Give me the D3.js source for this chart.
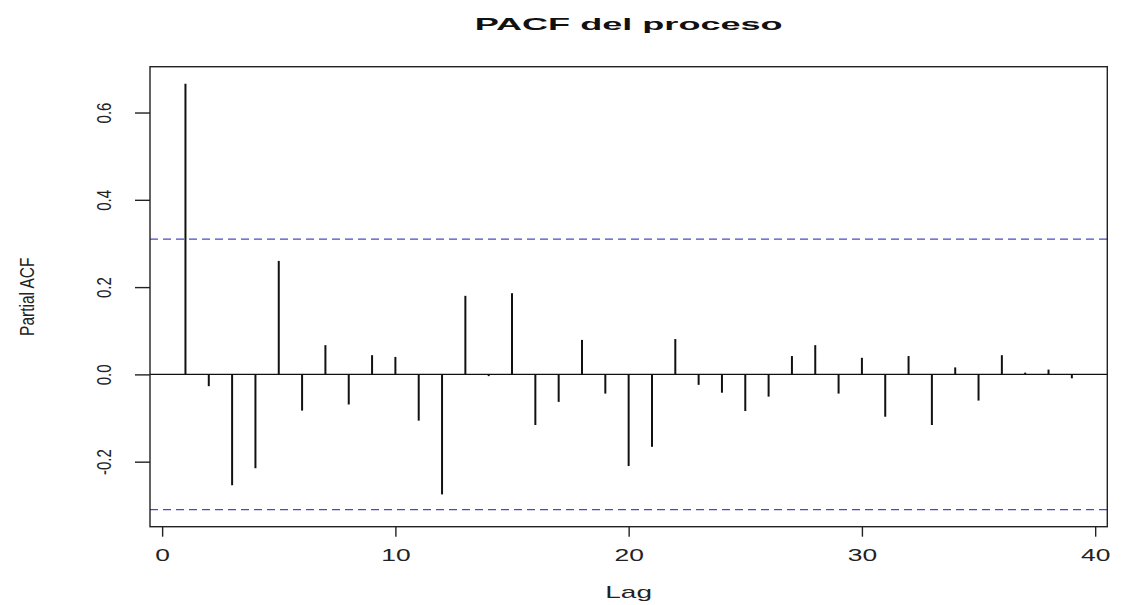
<!DOCTYPE html>
<html>
<head>
<meta charset="utf-8">
<script src="https://cdn.jsdelivr.net/npm/d3@7"></script>
<style>
  html, body { margin: 0; padding: 0; background: #fff; }
  svg { display: block; }
</style>
</head>
<body>
<div id="chart"></div>
<script>
// ---- data ----
const lags = [1,2,3,4,5,6,7,8,9,10,11,12,13,14,15,16,17,18,19,20,
              21,22,23,24,25,26,27,28,29,30,31,32,33,34,35,36,37,38,39];
const pacfValues = [0.666,-0.027,-0.254,-0.215,0.260,-0.083,0.067,-0.069,0.044,0.040,
                    -0.106,-0.275,0.180,-0.004,0.186,-0.116,-0.063,0.079,-0.044,-0.210,
                    -0.166,0.081,-0.024,-0.042,-0.084,-0.051,0.042,0.067,-0.044,0.038,
                    -0.097,0.042,-0.116,0.016,-0.060,0.044,0.004,0.011,-0.009];
const confLimit = 0.31;
const xTickValues = [0, 10, 20, 30, 40];
const yTickValues = [-0.2, 0.0, 0.2, 0.4, 0.6];
const titleText = "PACF del proceso";
const xLabel = "Lag";
const yLabel = "Partial ACF";

// ---- layout ----
const W = 1121, H = 605;
const plot = { left: 150, right: 1107.3, top: 66.7, bottom: 526.7 };
const font = "'Liberation Sans', Arial, Helvetica, sans-serif";

const svg = d3.select("#chart").append("svg")
  .attr("width", W).attr("height", H)
  .attr("viewBox", `0 0 ${W} ${H}`);
svg.append("rect").attr("width", W).attr("height", H).attr("fill", "#fff");

const x = d3.scaleLinear().domain([-0.52, 40.52]).range([plot.left, plot.right]);
const y = d3.scaleLinear().domain([-0.349, 0.705]).range([plot.bottom, plot.top]);

// confidence lines
svg.append("g").selectAll("line")
  .data([confLimit, -confLimit])
  .join("line")
  .attr("x1", plot.left).attr("x2", plot.right)
  .attr("y1", d => y(d)).attr("y2", d => y(d))
  .attr("stroke", "#4a4ac8")
  .attr("stroke-width", 1.3)
  .attr("stroke-dasharray", "8,5");

// zero line
svg.append("line")
  .attr("x1", plot.left).attr("x2", plot.right)
  .attr("y1", y(0)).attr("y2", y(0))
  .attr("stroke", "#111").attr("stroke-width", 1.3);

// spikes
svg.append("g").selectAll("line")
  .data(lags.map((l, i) => ({ lag: l, v: pacfValues[i] })))
  .join("line")
  .attr("x1", d => x(d.lag)).attr("x2", d => x(d.lag))
  .attr("y1", y(0)).attr("y2", d => y(d.v))
  .attr("stroke", "#111").attr("stroke-width", 2);

// box
svg.append("rect")
  .attr("x", plot.left).attr("y", plot.top)
  .attr("width", plot.right - plot.left).attr("height", plot.bottom - plot.top)
  .attr("fill", "none").attr("stroke", "#222").attr("stroke-width", 1.4);

// x axis
const xAxis = svg.append("g")
  .attr("transform", `translate(0,${plot.bottom})`)
  .call(d3.axisBottom(x).tickValues(xTickValues).tickSize(10).tickFormat(d => String(d)));
xAxis.select(".domain").remove();
xAxis.selectAll(".tick line").attr("stroke", "#222").attr("stroke-width", 1.4);
xAxis.selectAll(".tick text")
  .attr("y", 34).attr("dy", null)
  .attr("fill", "#222")
  .attr("font-family", font).attr("font-size", 16)
  .attr("transform", "scale(1.65,1)");

// y axis
const yAxis = svg.append("g")
  .attr("transform", `translate(${plot.left},0)`)
  .call(d3.axisLeft(y).tickValues(yTickValues).tickSize(15).tickFormat(d => d.toFixed(1)));
yAxis.select(".domain").remove();
yAxis.selectAll(".tick line").attr("stroke", "#222").attr("stroke-width", 1.4);
yAxis.selectAll(".tick text")
  .attr("x", 0).attr("y", 0).attr("dy", null)
  .attr("text-anchor", "middle")
  .attr("fill", "#222")
  .attr("font-family", font).attr("font-size", 15)
  .attr("transform", "translate(-39,0) scale(1.3,1) rotate(-90)");

// title
svg.append("text")
  .attr("x", (plot.left + plot.right) / 2).attr("y", 30)
  .attr("text-anchor", "middle")
  .attr("font-family", font).attr("font-weight", "bold").attr("font-size", 17)
  .attr("textLength", 308).attr("lengthAdjust", "spacingAndGlyphs")
  .attr("fill", "#111")
  .text(titleText);

// x label
svg.append("text")
  .attr("transform", `translate(${(plot.left + plot.right) / 2},598) scale(1.75,1)`)
  .attr("text-anchor", "middle")
  .attr("font-family", font).attr("font-size", 16)
  .attr("fill", "#222")
  .text(xLabel);

// y label
svg.append("text")
  .attr("transform", `translate(34,${(plot.top + plot.bottom) / 2}) scale(1.3,1) rotate(-90)`)
  .attr("text-anchor", "middle")
  .attr("font-family", font).attr("font-size", 15.5)
  .attr("fill", "#222")
  .text(yLabel);
</script>
</body>
</html>
